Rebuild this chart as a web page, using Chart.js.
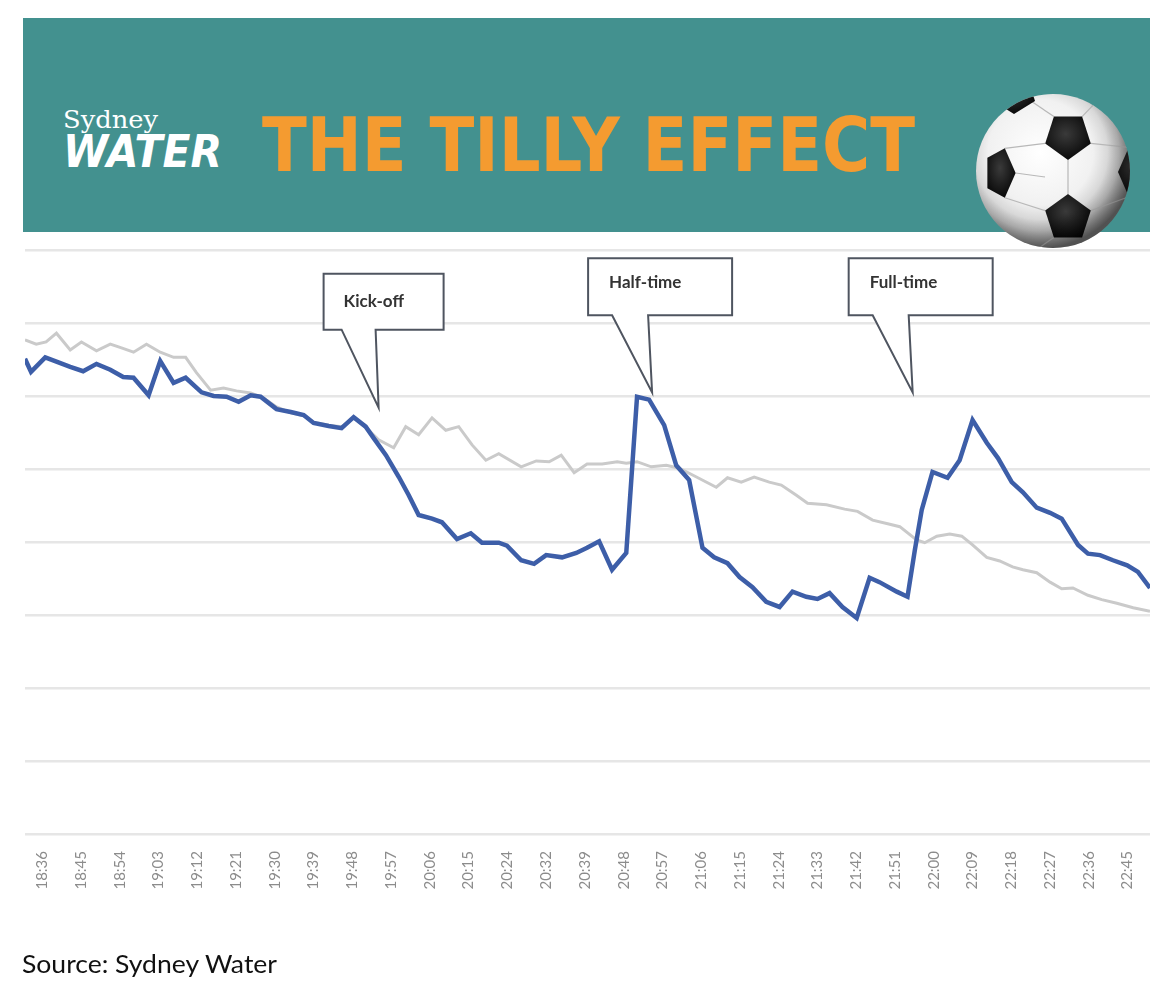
<!DOCTYPE html>
<html>
<head>
<meta charset="utf-8">
<script src="https://cdn.jsdelivr.net/npm/chart.js@4.4.0/dist/chart.umd.min.js"></script>
<style>
  html, body { margin: 0; padding: 0; background: #ffffff; }
  #wrap { position: relative; width: 1173px; height: 996px; overflow: hidden; }
  #chart { position: absolute; left: 0; top: 0; }
  #banner { position: absolute; left: 23px; top: 18px; width: 1127px; height: 214px; background: #43918f; }
  .t { position: absolute; white-space: nowrap; line-height: 1; display: inline-block; transform-origin: left top; }
  #sydney { left: 63px; top: 108px; font-family: "DejaVu Serif", serif; font-size: 24px; color: #ffffff; }
  #water { left: 63px; top: 130px; font-family: "DejaVu Sans", sans-serif; font-weight: bold; font-style: italic; font-size: 44px; color: #ffffff; }
  #title { left: 262px; top: 108px; font-family: "DejaVu Sans", sans-serif; font-weight: bold; font-size: 75px; color: #f49b30; }
  #ball { position: absolute; left: 976px; top: 94px; width: 154px; height: 154px; }
  #source { left: 22px; top: 951px; font-family: Lato, sans-serif; font-size: 25px; color: #111111; }
</style>
</head>
<body>
<div id="wrap">
  <canvas id="chart" width="1173" height="996"></canvas>
  <div id="banner"></div>
  <span class="t" id="sydney">Sydney</span>
  <span class="t" id="water">WATER</span>
  <span class="t" id="title">THE TILLY EFFECT</span>
  <svg id="ball" viewBox="0 0 154 154">
    <defs>
      <radialGradient id="bw" cx="42%" cy="38%" r="62%">
        <stop offset="0%" stop-color="#ffffff"/>
        <stop offset="55%" stop-color="#f1f1f1"/>
        <stop offset="82%" stop-color="#c4c4c4"/>
        <stop offset="100%" stop-color="#7d7d7d"/>
      </radialGradient>
      <radialGradient id="pb" cx="45%" cy="40%" r="65%">
        <stop offset="0%" stop-color="#3a3a3a"/>
        <stop offset="100%" stop-color="#050505"/>
      </radialGradient>
      <radialGradient id="shade" cx="42%" cy="38%" r="62%">
        <stop offset="70%" stop-color="#000" stop-opacity="0"/>
        <stop offset="100%" stop-color="#000" stop-opacity="0.35"/>
      </radialGradient>
      <clipPath id="cc"><circle cx="77" cy="77" r="77"/></clipPath>
    </defs>
    <circle cx="77" cy="77" r="77" fill="url(#bw)"/>
    <g clip-path="url(#cc)" stroke="#b8b8b8" stroke-width="1.2" fill="none">
      <line x1="92" y1="66" x2="92" y2="100"/>
      <line x1="69.2" y1="49.4" x2="28.8" y2="54.3"/>
      <line x1="69.2" y1="116.6" x2="28.8" y2="103.7"/>
      <line x1="39.6" y1="79" x2="69" y2="83"/>
      <line x1="114.8" y1="49.4" x2="152.8" y2="53.3"/>
      <line x1="114.8" y1="116.6" x2="152.8" y2="102.7"/>
      <line x1="77.9" y1="22.6" x2="55" y2="7"/>
      <line x1="106.1" y1="22.6" x2="122" y2="6"/>
      <line x1="77.9" y1="143.4" x2="60" y2="156"/>
    </g>
    <g clip-path="url(#cc)" fill="url(#pb)">
      <polygon points="92,66 69.2,49.4 77.9,22.6 106.1,22.6 114.8,49.4"/>
      <polygon points="92,100 114.8,116.6 106.1,143.4 77.9,143.4 69.2,116.6"/>
      <polygon points="39.6,79 28.8,103.7 11.4,94.3 11.4,63.7 28.8,54.3"/>
      <polygon points="142,78 152.8,53.3 170,62.7 170,93.3 152.8,102.7"/>
      <polygon points="38,20 17,7 25,-18 51,-18 59,7"/>
    </g>
    <circle cx="77" cy="77" r="77" fill="url(#shade)"/>
  </svg>
  <span class="t" id="source">Source: Sydney Water</span>
</div>
<script>
// ---- Data ----
// x: minutes-axis position (tick k sits at 9*k), y: relative water usage
const tickLabels = ['18:36','18:45','18:54','19:03','19:12','19:21','19:30','19:39','19:48','19:57',
  '20:06','20:15','20:24','20:32','20:39','20:48','20:57','21:06','21:15','21:24','21:33','21:42',
  '21:51','22:00','22:09','22:18','22:27','22:36','22:45'];

const matchTimes = [-4,-2.6,0.7,3.3,6.5,9.5,12.6,15.8,18.8,21.2,24.7,27.4,30.5,33.3,37.0,39.8,42.8,45.6,48.4,50.7,
  54.4,57.7,60.7,63.0,66.5,69.5,72.3,75.1,77.0,79.8,82.8,85.1,87.4,90.5,92.8,96.3,99.5,102.1,106.0,107.9,
  111.2,114.2,117.0,120.7,124.0,126.5,129.3,132.3,135.6,138.1,140.9,144.4,147.2,150.2,153.3,156.0,159.1,161.9,164.9,168.1,
  171.2,174.2,177.4,180.0,182.8,185.8,189.1,192.1,194.4,198.4,200.9,202.6,204.2,206.7,210.2,213.0,216.0,219.3,221.9,225.1,
  227.7,230.9,234.0,236.7,240.5,242.8,245.6,248.6,251.9,254.4,257.2];
const matchValues = [65.1,63.3,65.3,64.7,64.0,63.4,64.4,63.6,62.6,62.5,60.1,64.8,61.8,62.5,60.5,60.0,59.9,59.2,60.1,59.9,
  58.2,57.8,57.4,56.3,55.9,55.6,57.1,55.8,54.2,51.9,48.9,46.4,43.7,43.2,42.7,40.4,41.2,39.9,39.9,39.5,
  37.5,37.0,38.2,37.9,38.5,39.2,40.1,36.2,38.5,59.9,59.5,56.0,50.5,48.5,39.2,37.9,37.1,35.2,33.8,31.8,
  31.1,33.2,32.5,32.2,33.0,31.1,29.6,35.1,34.5,33.2,32.5,38.9,44.4,49.6,48.8,51.2,56.7,53.6,51.5,48.2,
  46.8,44.7,44.0,43.2,39.6,38.4,38.2,37.5,36.8,35.9,33.7];

const typicalTimes = [-4,-1.4,0.9,3.3,6.5,9.1,12.6,15.8,18.4,21.2,24.2,27.4,30.5,33.3,35.8,39.1,42.1,45.1,48.4,51.4,
  54.4,57.7,60.7,63.0,66.5,69.5,72.3,75.3,78.1,81.6,84.4,87.4,90.5,93.7,96.7,99.8,103.0,106.0,111.2,114.7,
  117.7,120.5,123.5,126.5,130.0,133.5,135.6,138.1,141.4,144.9,147.9,151.9,156.5,159.1,162.3,165.3,168.8,171.6,175.1,177.7,
  182.1,186.3,189.3,192.8,196.3,199.1,203.0,204.9,207.7,210.7,213.5,216.0,219.3,222.3,225.3,227.7,230.9,234.0,236.7,239.3,
  242.8,246.0,249.5,253.3,257.2];
const typicalValues = [67.7,67.1,67.4,68.6,66.3,67.4,66.2,67.1,66.6,66.0,67.1,66.0,65.3,65.3,63.2,60.8,61.1,60.7,60.4,59.7,
  58.5,57.7,57.3,56.4,56.0,55.8,57.0,55.6,54.0,52.9,55.8,54.7,57.0,55.3,55.8,53.3,51.2,52.1,50.3,51.1,
  51.0,51.9,49.5,50.7,50.7,51.0,50.8,51.0,50.3,50.5,50.1,48.9,47.5,48.8,48.2,48.9,48.2,47.8,46.4,45.3,
  45.1,44.5,44.2,43.0,42.5,42.1,40.3,39.9,40.8,41.1,40.8,39.6,37.9,37.4,36.6,36.2,35.8,34.5,33.6,33.7,
  32.7,32.1,31.6,31.0,30.5];

// callout anchors (time position, value at arrow tip)
const eventLabels = ['Kick-off', 'Half-time', 'Full-time'];
const eventTimes = [78.1, 141.6, 202.1];
const eventValues = [58.4, 60.5, 60.5];

// ---- Fit header texts ----
function fitWidth(id, w) {
  const el = document.getElementById(id);
  const r = el.getBoundingClientRect().width;
  el.style.transform = 'scaleX(' + (w / r) + ')';
}
fitWidth('sydney', 95);
fitWidth('water', 159);
fitWidth('title', 653);
fitWidth('source', 255);

// ---- Callout plugin ----
const calloutPlugin = {
  id: 'callouts',
  afterDatasetsDraw(chart) {
    const ctx = chart.ctx;
    const xs = chart.scales.x, ys = chart.scales.y;
    eventLabels.forEach((label, i) => {
      const tx = xs.getPixelForValue(eventTimes[i]);
      const ty = ys.getPixelForValue(eventValues[i]);
      const g = i === 0
        ? { l: -55, r: 65, t: -134, b: -78, bl: -37, br: -3, txX: -35, txY: -106 }
        : { l: -64, r: 80, t: -134, b: -77, bl: -40, br: -4, txX: -43, txY: -110 };
      ctx.save();
      ctx.beginPath();
      ctx.moveTo(tx + g.l, ty + g.t);
      ctx.lineTo(tx + g.r, ty + g.t);
      ctx.lineTo(tx + g.r, ty + g.b);
      ctx.lineTo(tx + g.br, ty + g.b);
      ctx.lineTo(tx, ty);
      ctx.lineTo(tx + g.bl, ty + g.b);
      ctx.lineTo(tx + g.l, ty + g.b);
      ctx.closePath();
      ctx.fillStyle = '#ffffff';
      ctx.fill();
      ctx.lineWidth = 2;
      ctx.lineJoin = 'miter';
      ctx.strokeStyle = '#4f5560';
      ctx.stroke();
      ctx.fillStyle = '#333333';
      ctx.font = 'bold 17px Lato, sans-serif';
      ctx.textAlign = 'left';
      ctx.textBaseline = 'middle';
      ctx.fillText(label, tx + g.txX, ty + g.txY);
      ctx.restore();
    });
  }
};

const toPoints = (xsArr, ysArr) => xsArr.map((x, i) => ({ x: x, y: ysArr[i] }));

new Chart(document.getElementById('chart'), {
  type: 'line',
  data: {
    datasets: [
      {
        label: 'Match night',
        data: toPoints(matchTimes, matchValues),
        borderColor: '#3d5ea8',
        borderWidth: 4.5,
        pointRadius: 0,
        tension: 0,
        fill: false
      },
      {
        label: 'Typical night',
        data: toPoints(typicalTimes, typicalValues),
        borderColor: '#cacaca',
        borderWidth: 3,
        pointRadius: 0,
        tension: 0,
        fill: false
      }
    ]
  },
  options: {
    responsive: false,
    animation: false,
    devicePixelRatio: 1,
    layout: { padding: { left: 25, right: 23, top: 250, bottom: 102 } },
    plugins: { legend: { display: false }, tooltip: { enabled: false } },
    scales: {
      x: {
        type: 'linear',
        min: -4,
        max: 257.2,
        afterBuildTicks: (s) => { s.ticks = tickLabels.map((_, i) => ({ value: i * 9 })); },
        afterFit: (s) => { s.height = 60; },
        grid: { display: false },
        border: { display: false },
        ticks: {
          autoSkip: false,
          minRotation: 90,
          maxRotation: 90,
          padding: 9,
          color: '#8c8c8c',
          font: { family: 'Lato, sans-serif', size: 15 },
          callback: (v, i) => tickLabels[i]
        }
      },
      y: {
        min: 0,
        max: 80,
        afterFit: (s) => { s.width = 0; },
        ticks: { display: false, stepSize: 10 },
        grid: { color: '#e6e6e6', lineWidth: 2.5, drawTicks: false },
        border: { display: false }
      }
    }
  },
  plugins: [calloutPlugin]
});
</script>
</body>
</html>
